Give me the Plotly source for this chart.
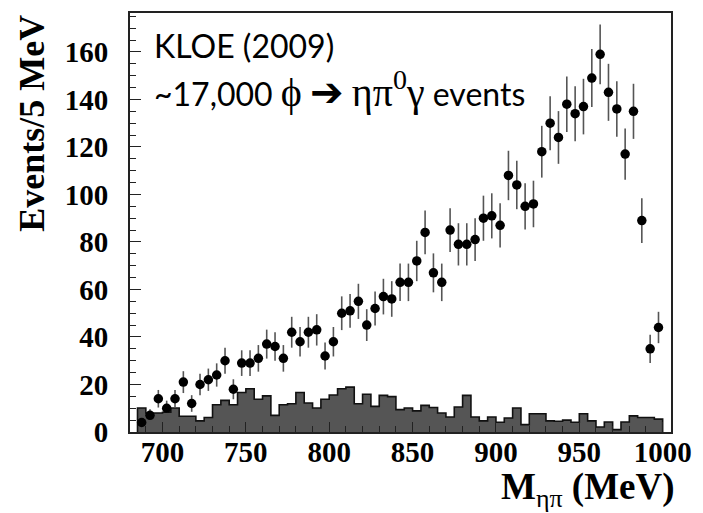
import numpy as np
import plotly.graph_objects as go

# ---- data ----
bin_width = 5.0
bin_lo = 685.0
counts = [4, 7, 14, 10, 14, 21, 12, 20, 22, 24, 30, 18, 29, 29, 31, 37, 36, 31, 42, 38,
          42, 43, 32, 38, 50, 51, 55, 45, 52, 57, 56, 63, 63, 72, 84, 67, 63, 85, 79, 79,
          81, 90, 91, 87, 108, 104, 95, 96, 118, 130, 124, 138, 134, 137, 149, 159, 143, 136, 117, 135,
          89, 35, 44]
errors = [2.0, 2.6, 3.7, 3.2, 3.7, 4.6, 3.5, 4.5, 4.7, 4.9, 5.5, 4.2, 5.4, 5.4, 5.6, 6.1, 6.0, 5.6, 6.5, 6.2,
          6.5, 6.6, 5.7, 6.2, 7.1, 7.1, 7.4, 6.7, 7.2, 7.5, 7.5, 7.9, 7.9, 8.5, 9.2, 8.2, 7.9, 9.2, 8.9, 8.9,
          9.0, 9.5, 9.5, 9.3, 10.4, 10.2, 9.7, 9.8, 10.9, 11.4, 11.1, 11.7, 11.6, 11.7, 12.2, 12.6, 12.0, 11.7, 10.8, 11.6,
          9.4, 5.9, 6.6]
background = [10.1, 8.0, 8.0, 8.3, 10.1, 6.6, 6.6, 4.7, 6.1, 11.5, 13.3, 11.5, 16.6, 18.2, 13.8, 15.2, 7.0, 11.5, 11.9, 16.6,
              12.2, 10.1, 13.8, 15.6, 18.2, 18.9, 11.9, 15.9, 10.8, 15.4, 14.9, 9.4, 10.1, 8.9, 11.2, 10.3, 8.0, 6.3, 10.5, 15.4,
              6.3, 4.7, 6.3, 4.1, 5.9, 10.1, 3.1, 7.7, 7.7, 4.7, 4.5, 5.0, 4.1, 7.7, 4.7, 2.1, 4.2, 1.0, 4.2, 6.8,
              6.1, 6.1, 5.4]
x_ticks = [700, 750, 800, 850, 900, 950, 1000]
y_ticks = [0, 20, 40, 60, 80, 100, 120, 140, 160]

n = len(counts)
centers = bin_lo + bin_width * (np.arange(n) + 0.5)
edges = bin_lo + bin_width * np.arange(n + 1)

# step outline for the background histogram
hx = np.concatenate([[edges[0]], edges[:-1], [edges[-1]], [edges[-1]]])
bg = np.array(background)
hy = np.concatenate([[0.0], bg, [bg[-1]], [0.0]])

fig = go.Figure()
fig.add_trace(go.Scatter(
    x=hx, y=hy, mode="lines", line=dict(shape="hv", color="#111111", width=1.6),
    fill="tozeroy", fillcolor="#555555", hoverinfo="skip", showlegend=False))
fig.add_trace(go.Scatter(
    x=centers, y=counts, mode="markers",
    marker=dict(color="black", size=9.5, symbol="circle"),
    error_y=dict(type="data", array=errors, visible=True, color="#555555", thickness=1.6, width=0),
    showlegend=False))

tickfont = dict(family="Liberation Serif", size=29, color="black", weight="bold")
fig.update_layout(
    width=703, height=513,
    margin=dict(l=130, r=25, t=11, b=81),
    paper_bgcolor="white", plot_bgcolor="white",
    xaxis=dict(range=[680.5, 1005], tickvals=x_ticks, ticks="inside", ticklen=10, tickwidth=1.2,
               tickcolor="#222", showgrid=False, zeroline=False, showline=True, mirror=True,
               linecolor="#222", linewidth=2, tickfont=tickfont, ticklabelstandoff=-7,
               minor=dict(dtick=10, tick0=700, ticks="inside", ticklen=6, tickcolor="#222", tickwidth=1.2)),
    yaxis=dict(range=[0, 176.4], tickvals=y_ticks, ticks="inside", ticklen=11, tickwidth=1.2,
               tickcolor="#222", showgrid=False, zeroline=False, showline=True, mirror=True,
               linecolor="#222", linewidth=2, tickfont=tickfont, ticklabelstandoff=14,
               minor=dict(dtick=5, tick0=0, ticks="inside", ticklen=6, tickcolor="#222", tickwidth=1.2)),
)

fig.add_annotation(xref="paper", yref="paper", x=-0.1825, y=1.0, xanchor="center", yanchor="top",
                   text="<b>Events/5 MeV</b>", textangle=-90, showarrow=False,
                   font=dict(family="Liberation Serif", size=36, color="black"))
fig.add_annotation(xref="paper", yref="paper", x=1.012, y=-0.138, xanchor="right", yanchor="middle",
                   text="<b>M</b><sub>ηπ</sub><b> (MeV)</b>", showarrow=False,
                   font=dict(family="Liberation Serif", size=37, color="black"))
fig.add_annotation(xref="paper", yref="paper", x=0.04, y=0.922, xanchor="left", yanchor="middle",
                   text="KLOE (2009)", showarrow=False,
                   font=dict(family="Lato", size=32, color="black"))
fig.add_annotation(xref="paper", yref="paper", x=0.04, y=0.818, xanchor="left", yanchor="middle",
                   text=("~17,000 <span style='font-family:Liberation Serif;font-size:40px'>ϕ</span> "
                         "<span style='font-family:DejaVu Sans;font-size:40px'>➔</span> "
                         "<span style='font-family:Liberation Serif;font-size:40px'>ηπ<sup>0</sup>γ</span> events"),
                   showarrow=False, font=dict(family="Lato", size=32, color="black"))

fig.write_html("out.html")
